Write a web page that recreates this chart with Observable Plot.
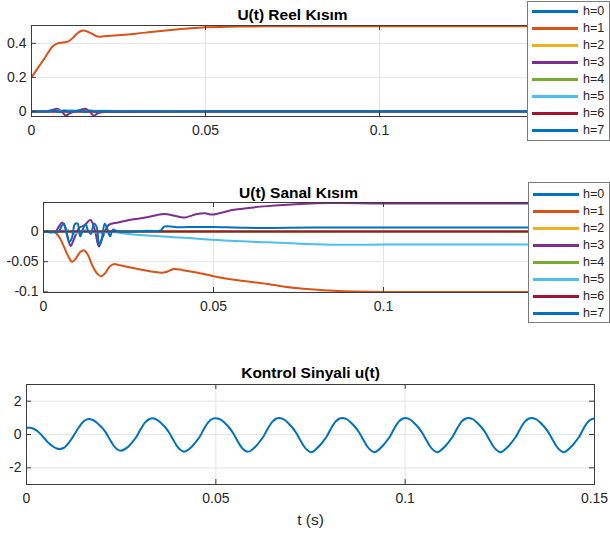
<!DOCTYPE html>
<html><head><meta charset="utf-8">
<script src="https://cdn.jsdelivr.net/npm/d3@7"></script>
<script src="https://cdn.jsdelivr.net/npm/@observablehq/plot@0.6"></script>
<style>
body{margin:0;background:#fff;}
#fig{position:relative;width:610px;height:535px;overflow:hidden;background:#fff;font-family:"Liberation Sans",Arial,sans-serif;}
#fig svg{position:absolute;left:0;}
.lgbox{position:absolute;background:#fff;border:1px solid #7a7a7a;box-sizing:border-box;z-index:2;}
.lgline{position:absolute;height:3px;z-index:3;}
.lgtext{position:absolute;height:16px;line-height:16px;font-size:12.5px;color:#262626;z-index:3;}
</style></head><body><div id="fig"></div>
<script>
// ---------- data ----------
const seriesNames = ["h=0","h=1","h=2","h=3","h=4","h=5","h=6","h=7"];
const seriesColors = ["#0072BD","#D95319","#EDB120","#7E2F8E","#77AC30","#4DBEEE","#A2142F","#0072BD"];
const xTicks = [0, 0.05, 0.1, 0.15];
const reelTicks = [0, 0.2, 0.4];
const sanalTicks = [-0.1, -0.05, 0];
const ctrlTicks = [-2, 0, 2];
const titles = ["U(t) Reel Kısım", "U(t) Sanal Kısım", "Kontrol Sinyali u(t)"];
const xLabel = "t (s)";

const zeroLine = [[0,0],[0.15,0]];

// Real part
const reel_h0 = [[0,0],[0.15,0]];
const reel_h1 = [[0,0.20],[0.002,0.26],[0.004,0.32],[0.006,0.38],[0.0075,0.40],[0.009,0.405],[0.0105,0.41],[0.012,0.435],[0.0135,0.465],[0.0148,0.475],[0.016,0.47],[0.0175,0.455],[0.019,0.44],[0.021,0.442],[0.025,0.448],[0.03,0.457],[0.035,0.468],[0.04,0.478],[0.045,0.487],[0.05,0.494],[0.06,0.499],[0.07,0.5],[0.1,0.5],[0.15,0.5]];
const reel_h3 = [[0,0],[0.004,0],[0.0062,0.01],[0.0074,0.016],[0.0086,0.0],[0.0098,-0.024],[0.011,-0.012],[0.0125,0.0],[0.0142,0.01],[0.0155,0.016],[0.0167,0.0],[0.0179,-0.025],[0.0191,-0.01],[0.021,-0.004],[0.03,-0.004],[0.037,-0.003],[0.045,0],[0.15,0]];
const reel_h5 = [[0,0],[0.006,0.002],[0.009,0.005],[0.012,0.006],[0.015,0.002],[0.018,0.004],[0.025,0.003],[0.033,0.003],[0.038,0.001],[0.045,0],[0.15,0]];
const reel_h7 = [[0,0],[0.005,0],[0.0065,0.004],[0.008,-0.004],[0.0095,0.005],[0.011,-0.003],[0.0125,0.002],[0.014,0.004],[0.0155,-0.004],[0.017,0.005],[0.0185,-0.003],[0.02,0.001],[0.022,0],[0.15,0]];

// Imaginary part
const sanal_h0 = [[0,0],[0.15,0]];
const sanal_h1 = [[0,0],[0.003,0],[0.0045,-0.008],[0.006,-0.025],[0.0072,-0.04],[0.0084,-0.05],[0.0095,-0.045],[0.0108,-0.034],[0.0119,-0.031],[0.013,-0.038],[0.0145,-0.058],[0.016,-0.071],[0.017,-0.074],[0.018,-0.07],[0.0195,-0.058],[0.0207,-0.054],[0.0225,-0.056],[0.0285,-0.063],[0.0354,-0.068],[0.0383,-0.062],[0.041,-0.064],[0.045,-0.068],[0.05,-0.074],[0.055,-0.079],[0.0658,-0.087],[0.075,-0.094],[0.0853,-0.098],[0.1,-0.1],[0.15,-0.1]];
const sanal_h3 = [[0,0],[0.0035,0],[0.0045,0.008],[0.0055,0.015],[0.0065,0.005],[0.0075,-0.018],[0.008,-0.024],[0.009,-0.012],[0.0105,0.006],[0.012,0.01],[0.0138,0.019],[0.015,0.005],[0.0163,-0.025],[0.0175,-0.008],[0.0192,0.011],[0.022,0.015],[0.0256,0.0195],[0.03,0.023],[0.0354,0.029],[0.0385,0.026],[0.0413,0.023],[0.0452,0.029],[0.0475,0.03],[0.0496,0.028],[0.053,0.032],[0.056,0.036],[0.0658,0.042],[0.0756,0.0455],[0.0854,0.047],[0.1,0.0465],[0.15,0.0465]];
const sanal_h5 = [[0,0],[0.005,0],[0.007,0.003],[0.009,-0.004],[0.012,0.002],[0.016,-0.002],[0.02,-0.001],[0.0256,-0.0045],[0.0403,-0.01],[0.055,-0.0155],[0.0658,-0.018],[0.0854,-0.022],[0.1,-0.0215],[0.15,-0.0215]];
const sanal_h7 = [[0,0],[0.0045,0],[0.0052,0.008],[0.006,0.013],[0.0068,-0.004],[0.0076,-0.017],[0.0084,-0.01],[0.0092,0.012],[0.01,0.013],[0.0108,-0.008],[0.0116,0.004],[0.0124,0.012],[0.0132,0.0],[0.014,-0.004],[0.0148,0.013],[0.0156,0.008],[0.0164,-0.022],[0.0172,-0.01],[0.018,0.013],[0.0188,0.004],[0.0196,-0.008],[0.0204,0.003],[0.022,0],[0.03,0.001],[0.0345,0.002],[0.0355,0.008],[0.04,0.007],[0.045,0.0075],[0.05,0.0075],[0.06,0.006],[0.08,0.0065],[0.1,0.0065],[0.15,0.0065]];

// Control signal u(t)
const ctrl = [
[0,0.40],[0.001,0.40],[0.002,0.33],[0.003,0.18],[0.004,-0.04],[0.005,-0.3],[0.006,-0.54],[0.007,-0.72],[0.008,-0.84],[0.0088,-0.87],[0.0098,-0.81],[0.0108,-0.6],[0.0118,-0.3],[0.0128,0.06],[0.0138,0.42],[0.0148,0.72],[0.0158,0.89],[0.0166,0.93],
[0.0178,0.84],[0.019,0.62],[0.02,0.4],[0.021,0.1],[0.022,-0.3],[0.023,-0.66],[0.024,-0.9],[0.0249,-0.97],[0.0258,-0.9],[0.027,-0.7],[0.028,-0.44],[0.029,-0.15],[0.0302,0.34],[0.0314,0.74],[0.0325,0.93],[0.0333,0.97],
[0.0345,0.88],[0.0357,0.65],[0.0367,0.42],[0.0377,0.1],[0.0387,-0.3],[0.0397,-0.68],[0.0407,-0.93],[0.0416,-1.03],[0.0425,-0.95],[0.0437,-0.72],[0.0447,-0.45],[0.0457,-0.15],[0.0469,0.35],[0.0481,0.76],[0.0492,0.95],[0.0501,0.98],
[0.0513,0.89],[0.0525,0.66],[0.0535,0.42],[0.0545,0.1],[0.0555,-0.3],[0.0565,-0.68],[0.0575,-0.94],[0.0584,-1.04],[0.0593,-0.96],[0.0605,-0.72],[0.0615,-0.45],[0.0625,-0.15],[0.0637,0.35],[0.0649,0.76],[0.066,0.96],[0.0668,0.99],
[0.068,0.9],[0.0692,0.66],[0.0702,0.42],[0.0712,0.1],[0.0722,-0.3],[0.0732,-0.69],[0.0742,-0.95],[0.0751,-1.06],[0.076,-0.97],[0.0772,-0.72],[0.0782,-0.45],[0.0792,-0.15],[0.0804,0.35],[0.0816,0.77],[0.0827,0.96],[0.0835,0.99],
[0.0847,0.9],[0.0859,0.66],[0.0869,0.42],[0.0879,0.1],[0.0889,-0.3],[0.0899,-0.69],[0.0909,-0.95],[0.0918,-1.06],[0.0927,-0.97],[0.0939,-0.72],[0.0949,-0.45],[0.0959,-0.15],[0.0971,0.35],[0.0983,0.77],[0.0994,0.96],[0.1001,0.99],
[0.1013,0.9],[0.1025,0.66],[0.1035,0.42],[0.1045,0.1],[0.1055,-0.3],[0.1065,-0.69],[0.1075,-0.95],[0.1084,-1.06],[0.1093,-0.97],[0.1105,-0.72],[0.1115,-0.45],[0.1125,-0.15],[0.1137,0.35],[0.1149,0.77],[0.116,0.96],[0.1168,0.99],
[0.118,0.9],[0.1192,0.66],[0.1202,0.42],[0.1212,0.1],[0.1222,-0.3],[0.1232,-0.69],[0.1242,-0.95],[0.1251,-1.06],[0.126,-0.97],[0.1272,-0.72],[0.1282,-0.45],[0.1292,-0.15],[0.1304,0.35],[0.1316,0.77],[0.1327,0.96],[0.1335,0.99],
[0.1347,0.9],[0.1359,0.66],[0.1369,0.42],[0.1379,0.1],[0.1389,-0.3],[0.1399,-0.69],[0.1409,-0.95],[0.1418,-1.06],[0.1427,-0.97],[0.1439,-0.72],[0.1449,-0.45],[0.1459,-0.15],[0.1471,0.35],[0.1483,0.77],[0.1494,0.93],[0.15,0.96]
];

const reelSeries = [reel_h0, reel_h1, zeroLine, reel_h3, zeroLine, reel_h5, zeroLine, reel_h7];
const sanalSeries = [sanal_h0, sanal_h1, zeroLine, sanal_h3, zeroLine, sanal_h5, zeroLine, sanal_h7];

// ---------- drawing ----------
const fig = document.getElementById("fig");
const fmt = d => String(d);
const axisColor = "#3c3c3c";
const gridColor = "#e4e4e4";

function panel(o) {
  const W = 610;
  const fh = o.height - o.mt - o.mb, fw = W - o.ml - o.mr;
  const marks = [
    Plot.ruleX(xTicks, {x: d => d, stroke: gridColor}),
    Plot.ruleY(o.yticks, {y: d => d, stroke: gridColor}),
    ...o.series.map((s, i) => Plot.line(s, {x: d => d[0], y: d => d[1], stroke: o.colors[i], strokeWidth: 2, curve: "catmull-rom", clip: true})),
    Plot.frame({stroke: axisColor}),
    Plot.ruleX(xTicks, {x: d => d, insetTop: fh - 5, stroke: axisColor}),
    Plot.ruleX(xTicks, {x: d => d, insetBottom: fh - 5, stroke: axisColor}),
    Plot.ruleY(o.yticks, {y: d => d, insetRight: fw - 5, stroke: axisColor}),
    Plot.ruleY(o.yticks, {y: d => d, insetLeft: fw - 5, stroke: axisColor}),
    Plot.axisX(xTicks, {tickSize: 0, tickPadding: 9, tickFormat: fmt, label: null}),
    Plot.axisY(o.yticks, {tickSize: 0, tickPadding: 5, tickFormat: fmt, label: null}),
    Plot.text([o.title], {frameAnchor: "top", dy: o.titleDy, fontWeight: "bold", fontSize: 15.5, fill: "#000", lineAnchor: "middle", textAnchor: "middle"})
  ];
  if (o.xlabel) marks.push(Plot.text([o.xlabel], {frameAnchor: "bottom", dy: 36, fontSize: 15.5, fill: "#262626", lineAnchor: "middle", textAnchor: "middle"}));
  const svg = Plot.plot({
    width: W, height: o.height,
    marginLeft: o.ml, marginRight: o.mr, marginTop: o.mt, marginBottom: o.mb,
    x: {domain: [0, 0.15]},
    y: {domain: o.ydom},
    style: {fontFamily: '"Liberation Sans", Arial, sans-serif', fontSize: "14px", color: "#262626", background: "transparent", overflow: "visible"},
    marks
  });
  svg.style.top = o.top + "px";
  fig.appendChild(svg);
}

function legend(boxTop, boxLeft, boxH, firstCenter, lineLeft, textLeft) {
  const box = document.createElement("div");
  box.className = "lgbox";
  box.style.cssText = `top:${boxTop}px;left:${boxLeft}px;width:${609 - boxLeft + 1}px;height:${boxH}px;`;
  fig.appendChild(box);
  seriesNames.forEach((n, i) => {
    const cy = firstCenter + 17 * i;
    const ln = document.createElement("div");
    ln.className = "lgline";
    ln.style.cssText = `left:${lineLeft}px;top:${cy - 1.5}px;width:46px;background:${seriesColors[i]};`;
    fig.appendChild(ln);
    const tx = document.createElement("div");
    tx.className = "lgtext";
    tx.style.cssText = `left:${textLeft}px;top:${cy - 8}px;`;
    tx.textContent = n;
    fig.appendChild(tx);
  });
}

panel({top: 0, height: 140, mt: 25, mb: 24, ml: 31, mr: 57, ydom: [-0.03, 0.505], yticks: reelTicks,
  series: reelSeries, colors: seriesColors, title: titles[0], titleDy: -10});
panel({top: 180, height: 136, mt: 22, mb: 24, ml: 43, mr: 57, ydom: [-0.101, 0.048], yticks: sanalTicks,
  series: sanalSeries, colors: seriesColors, title: titles[1], titleDy: -9});
panel({top: 340, height: 195, mt: 44, mb: 51, ml: 26, mr: 16, ydom: [-3, 3], yticks: ctrlTicks,
  series: [ctrl], colors: ["#0072BD"], title: titles[2], titleDy: -11, xlabel: xLabel});

legend(1, 527, 140, 11, 532, 583);
legend(182, 528, 141, 194, 533, 583);
</script></body></html>
